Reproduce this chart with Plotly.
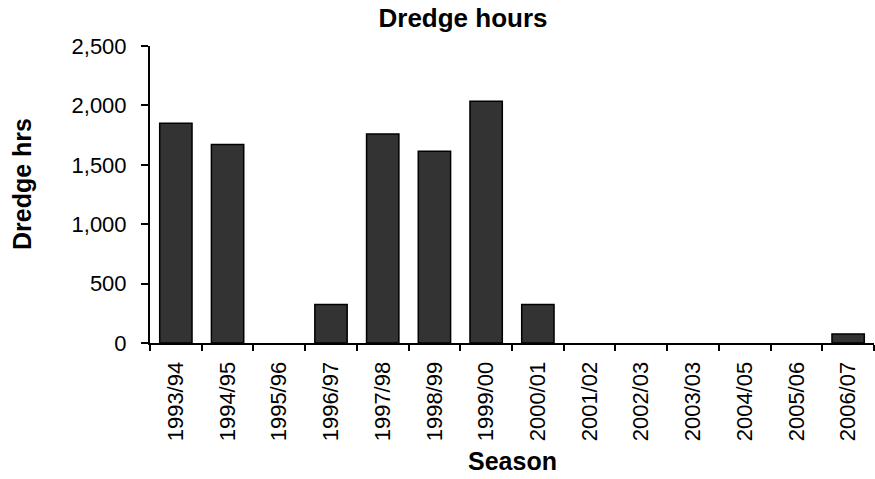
import plotly.graph_objects as go

# seasons and dredge hours
seasons = ["1993/94", "1994/95", "1995/96", "1996/97", "1997/98", "1998/99", "1999/00",
           "2000/01", "2001/02", "2002/03", "2003/03", "2004/05", "2005/06", "2006/07"]
dredge_hrs = [1850, 1670, 0, 325, 1760, 1615, 2035, 325, 0, 0, 0, 0, 0, 75]

y_ticks = [0, 500, 1000, 1500, 2000, 2500]

FONT = "Liberation Sans, Arial, sans-serif"

# no outline on empty seasons, like the original
outline = [1.5 if v > 0 else 0 for v in dredge_hrs]

fig = go.Figure()
fig.add_trace(go.Bar(x=seasons, y=dredge_hrs,
                     marker=dict(color="#333333", line=dict(color="black", width=outline))))

fig.update_layout(
    width=875, height=479,
    margin=dict(l=150, r=1, t=46, b=136),
    paper_bgcolor="white", plot_bgcolor="white",
    bargap=0.375, showlegend=False,
    font=dict(family=FONT, size=22, color="black"),
    title=dict(text="<b>Dredge hours</b>", font=dict(size=26, family=FONT, color="black"),
               xref="container", yref="container", x=463 / 875, y=1 - 9 / 479,
               xanchor="center", yanchor="top"),
)

fig.update_xaxes(type="category", tickson="boundaries", ticks="outside", ticklen=6,
                 tickwidth=1.5, tickcolor="black", showline=True, linecolor="black",
                 linewidth=2, tickangle=-90, showgrid=False, ticklabelstandoff=8)
fig.update_yaxes(range=[0, 2500], tickvals=y_ticks, tickformat=",", ticks="outside",
                 ticklen=7, tickwidth=1.5, tickcolor="black", showline=True,
                 linecolor="black", linewidth=2, showgrid=False, zeroline=False,
                 ticklabelstandoff=10)

# axis titles placed as annotations to match the original positions
fig.add_annotation(text="<b>Dredge hrs</b>", xref="paper", yref="paper",
                   x=(22 - 150) / 724, y=(343 - 184) / 297, textangle=-90,
                   showarrow=False, xanchor="center", yanchor="middle",
                   font=dict(size=25, family=FONT, color="black"))
fig.add_annotation(text="<b>Season</b>", xref="paper", yref="paper",
                   x=0.5, y=(343 - 461) / 297, showarrow=False,
                   xanchor="center", yanchor="middle",
                   font=dict(size=25, family=FONT, color="black"))

# drop the default 8px body margin so the figure fills the window, hide the modebar
fig.write_html("out.html", config={"displayModeBar": False},
               post_script="document.body.style.margin = '0';")
